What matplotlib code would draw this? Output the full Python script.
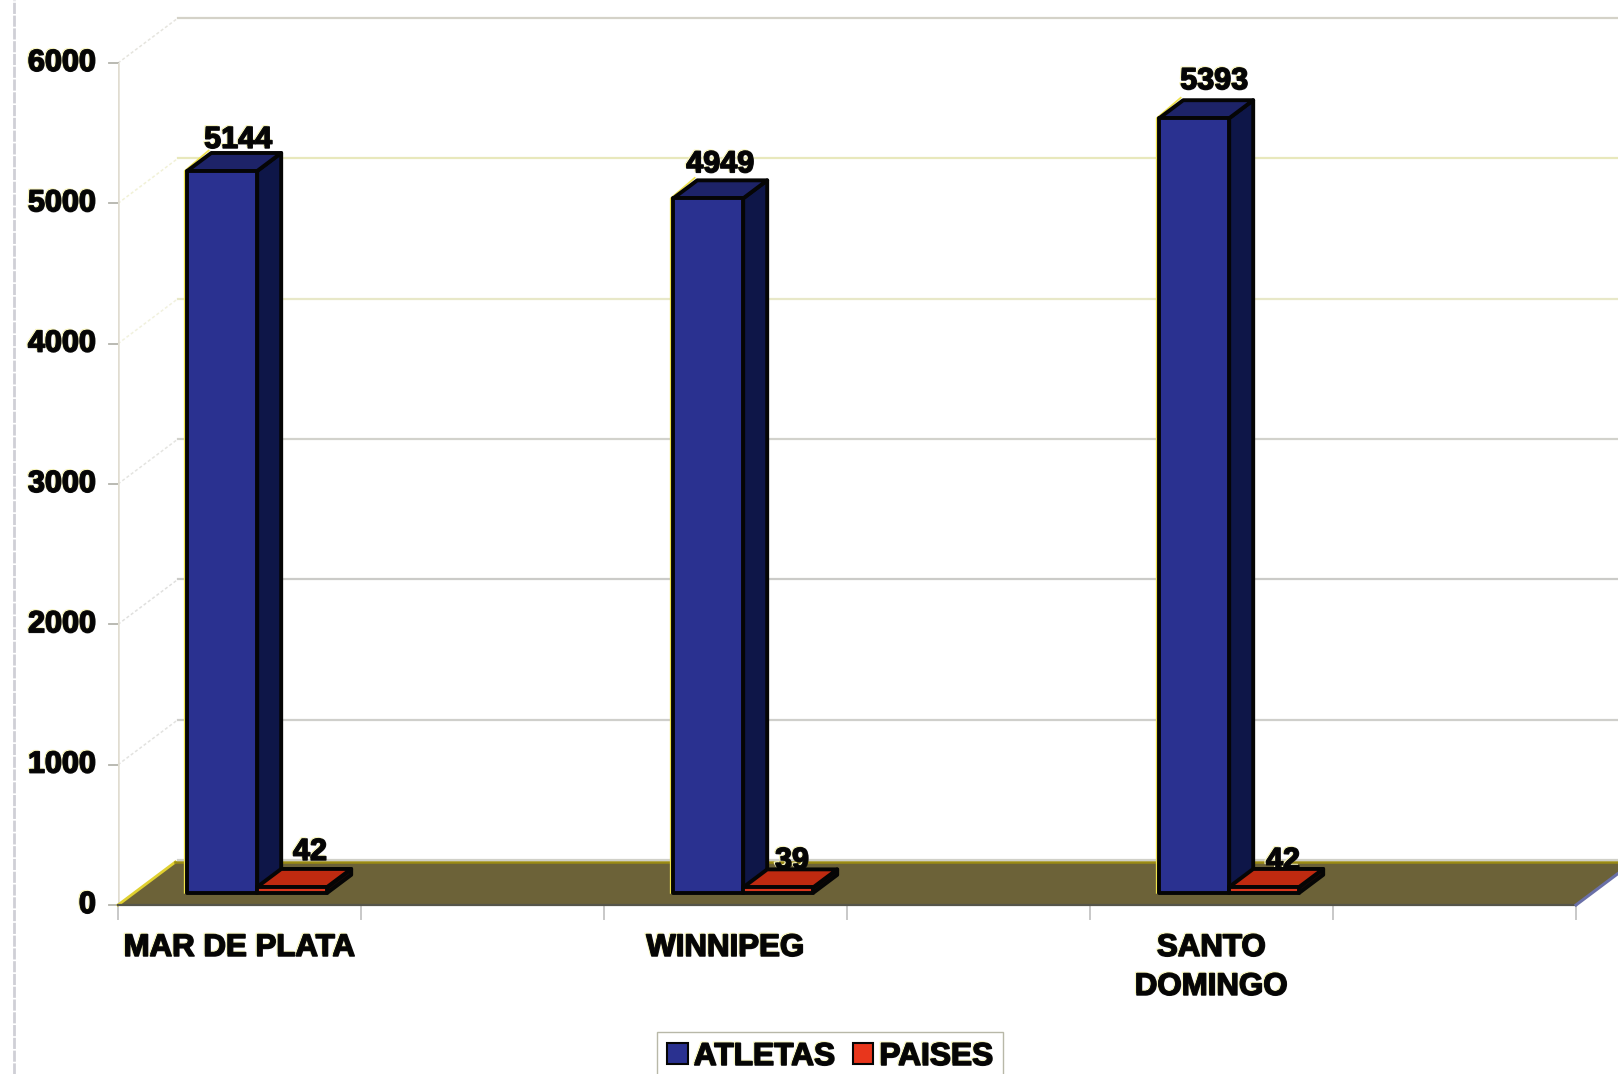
"""
Atletas y paises - columnas con aspecto 3D
"""
import matplotlib
matplotlib.use('Agg')
import matplotlib.pyplot as plt
import matplotlib.patheffects as pe
from matplotlib.patches import Polygon, Rectangle

cities = ['MAR DE PLATA', 'WINNIPEG', 'SANTO\nDOMINGO']
atletas = [5144, 4949, 5520]
atletas_labels = ['5144', '4949', '5393']
paises = [42, 39, 42]
paises_labels = ['42', '39', '42']
y_ticks = [0, 1000, 2000, 3000, 4000, 5000, 6000]
grid_colors = ['#d0d0c8', '#cfcfcb', '#cbcbc8', '#d2d2cc', '#e8e8c8', '#e8e8bc', '#d4d2c8']

W, H = 1618, 1074
# plano frontal del grafico en pixeles
LEFT, RIGHT, BOTTOM, TOP = 118, 1576, 905, 63

plt.rcParams['font.family'] = ['Liberation Sans', 'DejaVu Sans']
plt.rcParams['font.weight'] = 'bold'

fig = plt.figure(figsize=(W / 100, H / 100), dpi=100)
ax = fig.add_axes([LEFT / W, 1 - BOTTOM / H, (RIGHT - LEFT) / W, (BOTTOM - TOP) / H])
ax.set_xlim(0, 3)
ax.set_ylim(0, 6000)
ax.patch.set_alpha(0)
for s in ax.spines.values():
    s.set_visible(False)

# profundidad en unidades de datos
px_x = 3 / (RIGHT - LEFT)
px_y = 6000 / (BOTTOM - TOP)
DX = 60 * px_x
DY = 45 * px_y
FLOOR = 43 / 45


def box(x, w, h, z0, z1, front, top, side, zorder):
    # columna: cara lateral, superior y frontal
    x0 = x + z0 * DX
    y0 = z0 * DY
    ddx = (z1 - z0) * DX
    ddy = (z1 - z0) * DY
    kw = dict(edgecolor='#050505', linewidth=2.8, joinstyle='round', clip_on=False, zorder=zorder)
    ax.add_patch(Polygon([(x0 + w, y0), (x0 + w + ddx, y0 + ddy), (x0 + w + ddx, y0 + ddy + h),
                          (x0 + w, y0 + h)], facecolor=side, **kw))
    ax.add_patch(Polygon([(x0, y0 + h), (x0 + ddx, y0 + ddy + h), (x0 + w + ddx, y0 + ddy + h),
                          (x0 + w, y0 + h)], facecolor=top, **kw))
    ax.add_patch(Rectangle((x0, y0), w, h, facecolor=front, **kw))
    return x0, y0, ddx, ddy


# lineas de la pared del fondo y lateral
for v, c in zip(y_ticks, grid_colors):
    ax.plot([DX, 3 + DX], [v + DY, v + DY], color=c, lw=1.6, clip_on=False, zorder=1)
    ax.plot([0, DX], [v, v + DY], color=c, lw=1.1, ls=(0, (2, 1.5)), alpha=0.6, clip_on=False, zorder=1)
    ax.plot([-9 * px_x, 0], [v, v], color='#b4b4ac', lw=1.3, clip_on=False, zorder=1)
ax.plot([0, 0], [0, 6000], color='#e0dcd0', lw=1.8, zorder=1)
for k in range(7):
    ax.plot([k / 2, k / 2], [0, -14 * px_y], color='#c8c8c8', lw=1.4, clip_on=False, zorder=1)

# ticks y etiquetas
ax.set_xticks([])
ax.set_yticks([])
effects = [pe.Stroke(linewidth=1.0, foreground='#fbf8c0', offset=(-1.0, 0.8)),
           pe.Stroke(linewidth=1.1, foreground='#101010'), pe.Normal()]
for v in y_ticks:
    ax.text(-22 * px_x, v, str(v), ha='right', va='center', fontsize=22, color='#050505',
            path_effects=effects, clip_on=False, zorder=6)

# suelo
ax.add_patch(Polygon([(0, 0), (FLOOR * DX, FLOOR * DY), (3 + FLOOR * DX, FLOOR * DY), (3, 0)],
                     facecolor='#6c6238', edgecolor='none', clip_on=False, zorder=3))
ax.plot([0, FLOOR * DX], [0, FLOOR * DY], color='#e0d030', lw=2.0, clip_on=False, zorder=3)
ax.plot([FLOOR * DX, 3 + FLOOR * DX], [FLOOR * DY, FLOOR * DY], color='#9a8a14', lw=1.8, clip_on=False, zorder=3)
ax.plot([0, 3], [0, 0], color='#55554a', lw=1.6, clip_on=False, zorder=3)
ax.plot([3, 3 + FLOOR * DX], [0, FLOOR * DY], color='#6a70a8', lw=2.2, clip_on=False, zorder=3)

# etiquetas de paises: delante del suelo, detras de las columnas
pais_lift = [-8, -17, -17]
pais_shift = [1, -3, 2]
for i in range(3):
    x0 = i + (53 + 16 + 70 + 52 + pais_shift[i]) * px_x
    ax.text(x0, DY + (16 + pais_lift[i]) * px_y, paises_labels[i], ha='center', va='center',
            fontsize=22, color='#050505', path_effects=effects, zorder=3.5)

# columnas
blue_lift = [13, 16, 19]
blue_shift = [0, -4, 4]
for i in range(3):
    x = i + 53 * px_x
    x0, y0, ddx, ddy = box(x, 70 * px_x, atletas[i], 0.27, 0.67, '#2a3190', '#1d2368', '#0e1648', 4)
    box(x + 70 * px_x, 70 * px_x, paises[i], 0.27, 0.67, '#d8361c', '#bf2a10', '#1a0a08', 4)
    # borde amarillo del lado izquierdo
    ax.plot([x0 - 2.5 * px_x, x0 - 2.5 * px_x, x0 + ddx - 2.5 * px_x],
            [y0, y0 + atletas[i], y0 + ddy + atletas[i] + 2.5 * px_y],
            color='#efe24a', lw=1.2, clip_on=False, zorder=3.8)
    ax.text(x0 + (35 + 16 + blue_shift[i]) * px_x, y0 + ddy + atletas[i] + blue_lift[i] * px_y, atletas_labels[i],
            ha='center', va='center', fontsize=22, color='#050505', path_effects=effects, zorder=6, clip_on=False)

# nombres de las ciudades
for i, name in enumerate(cities):
    ax.text(i + 0.25, -28 * px_y, name, ha='center', va='top', fontsize=22.5, color='#050505', linespacing=1.39,
            path_effects=effects, clip_on=False, zorder=6)

# borde izquierdo del area del grafico
fig.add_artist(plt.Line2D([14 / W, 14 / W], [0, 1], color='#cfcfd6', lw=2.0, ls=(0, (4, 0.6))))

# leyenda
handles = [Rectangle((0, 0), 1, 1, facecolor='#2a3190', edgecolor='#050505', lw=1.5),
           Rectangle((0, 0), 1, 1, facecolor='#e8361c', edgecolor='#050505', lw=1.5)]
leg = ax.legend(handles, ['ATLETAS', 'PAISES'], loc='upper center', bbox_to_anchor=(0.4883, -0.1507), ncol=2,
                fontsize=22.8, frameon=True, fancybox=False, edgecolor='#b8b8a8', framealpha=1, borderaxespad=0,
                handlelength=0.65, handleheight=0.65, handletextpad=0.2, columnspacing=0.55, borderpad=0.32,
                labelcolor='#050505')
for t in leg.get_texts():
    t.set_path_effects(effects)

fig.savefig('out.png', dpi=100)
